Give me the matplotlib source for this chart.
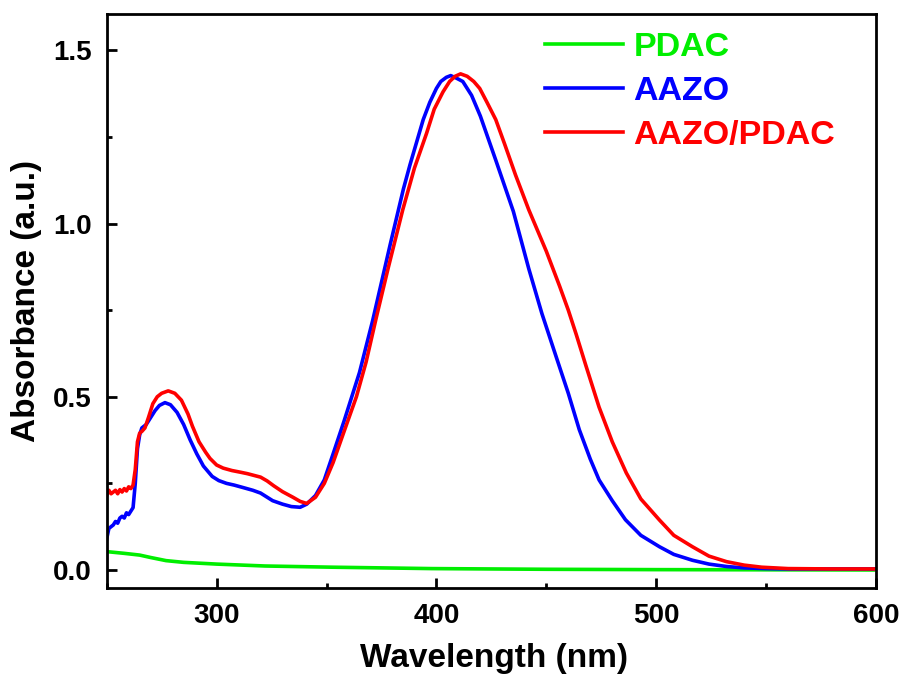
import matplotlib
matplotlib.use("Agg")
import matplotlib.pyplot as plt
from matplotlib.ticker import MultipleLocator

plt.rcParams["font.family"] = ["Liberation Sans", "DejaVu Sans"]
plt.rcParams["font.weight"] = "bold"

# PDAC
wl_pdac = [250, 258, 265, 270, 277, 285, 300, 322, 353, 398, 450, 500, 550, 600]
abs_pdac = [0.053, 0.048, 0.043, 0.036, 0.027, 0.022, 0.017, 0.0115, 0.008, 0.004, 0.002, 0.001, 0.0005, 0.0]

# AAZO
wl_aazo = [250, 251, 252, 253, 254, 255, 256, 257, 258, 259, 260, 261, 262, 263, 264, 265, 266,
           268, 270, 272, 274, 276.5, 279, 282, 285, 288, 291, 294, 298, 301, 304.5, 308, 312,
           316.5, 320, 325.5, 330, 334, 338, 341, 345, 349, 353, 358, 365, 371, 375, 379, 382,
           385, 388, 391, 394, 397, 400, 402, 404.5, 406.5, 409, 412, 416, 420, 427, 435, 442,
           448, 454.5, 460, 465, 470, 474, 480, 486, 493, 501.5, 508, 516.5, 524, 532, 540, 550,
           560, 580, 600]
abs_aazo = [0.09, 0.12, 0.125, 0.13, 0.14, 0.135, 0.15, 0.155, 0.15, 0.165, 0.16, 0.17, 0.18, 0.25,
            0.35, 0.39, 0.41, 0.42, 0.44, 0.46, 0.475, 0.483, 0.477, 0.455, 0.42, 0.375, 0.335,
            0.30, 0.27, 0.258, 0.25, 0.245, 0.238, 0.23, 0.222, 0.20, 0.19, 0.183, 0.181, 0.19,
            0.215, 0.26, 0.335, 0.43, 0.57, 0.72, 0.83, 0.94, 1.02, 1.10, 1.17, 1.235, 1.30, 1.35,
            1.39, 1.41, 1.422, 1.427, 1.42, 1.41, 1.37, 1.31, 1.183, 1.035, 0.87, 0.74, 0.615,
            0.51, 0.405, 0.32, 0.26, 0.20, 0.145, 0.10, 0.067, 0.045, 0.028, 0.017, 0.01, 0.006,
            0.004, 0.003, 0.003, 0.003]

# AAZO/PDAC
wl_mix = [250, 251, 252, 253, 254, 255, 256, 257, 258, 259, 260, 261, 262, 263, 264, 265, 266,
          267.4, 269, 271, 273, 275, 278, 281, 284, 287, 289, 292, 295, 297, 300, 303, 307, 311,
          314, 317, 320, 323, 326, 330, 334.7, 338, 341, 345, 349, 353, 358, 363.6, 368, 372.7,
          378, 384.7, 390, 395.5, 399, 403, 406, 408.5, 411, 414, 417, 419.7, 423, 427, 431, 436,
          442, 446, 450, 456, 460, 463.6, 468, 474, 480, 486.4, 493, 501.5, 508, 516.5, 524, 532,
          540, 548, 560, 580, 600]
abs_mix = [0.215, 0.23, 0.22, 0.225, 0.23, 0.22, 0.232, 0.225, 0.235, 0.228, 0.24, 0.235, 0.245,
           0.29, 0.37, 0.395, 0.40, 0.41, 0.44, 0.48, 0.50, 0.51, 0.517, 0.51, 0.49, 0.45, 0.415,
           0.37, 0.34, 0.322, 0.303, 0.294, 0.287, 0.282, 0.278, 0.273, 0.268, 0.257, 0.243,
           0.226, 0.21, 0.198, 0.192, 0.21, 0.25, 0.31, 0.40, 0.50, 0.60, 0.73, 0.87, 1.04, 1.16,
           1.26, 1.33, 1.38, 1.41, 1.425, 1.432, 1.425, 1.41, 1.39, 1.35, 1.30, 1.23, 1.14, 1.04,
           0.98, 0.92, 0.82, 0.75, 0.68, 0.59, 0.47, 0.37, 0.28, 0.205, 0.144, 0.10, 0.067, 0.04,
           0.024, 0.014, 0.008, 0.004, 0.003, 0.003]

fig = plt.figure(figsize=(9.08, 6.8), dpi=100)
ax = fig.add_axes([0.1175, 0.1353, 0.8473, 0.8437])

ax.plot(wl_pdac, abs_pdac, color="#00ee00", lw=2.6, label="PDAC")
ax.plot(wl_aazo, abs_aazo, color="#0000ff", lw=2.6, label="AAZO")
ax.plot(wl_mix, abs_mix, color="#ff0000", lw=2.6, label="AAZO/PDAC")

ax.set_xlim(250, 600)
ax.set_ylim(-0.052, 1.604)
ax.xaxis.set_major_locator(MultipleLocator(100))
ax.xaxis.set_minor_locator(MultipleLocator(50))
ax.yaxis.set_major_locator(MultipleLocator(0.5))
ax.yaxis.set_minor_locator(MultipleLocator(0.25))
ax.tick_params(which="both", direction="in", width=2, labelsize=20, pad=11,
               top=False, right=False)
ax.tick_params(which="major", length=7)
ax.tick_params(which="minor", length=3.5)
for lab in ax.get_xticklabels() + ax.get_yticklabels():
    lab.set_fontweight("bold")
for sp in ax.spines.values():
    sp.set_linewidth(2)

ax.set_xlabel("Wavelength (nm)", fontsize=24, fontweight="bold")
ax.set_ylabel("Absorbance (a.u.)", fontsize=24, fontweight="bold")
ax.xaxis.set_label_coords(0.503, -0.096)
ax.yaxis.set_label_coords(-0.084, 0.5)

leg = ax.legend(loc="upper left", bbox_to_anchor=(545 / 908, 1 - 32 / 680),
                bbox_transform=fig.transFigure, frameon=False, fontsize=24.5,
                handlelength=2.3, handletextpad=0.3, labelspacing=0.375, borderpad=0,
                borderaxespad=0)
for txt, line in zip(leg.get_texts(), leg.get_lines()):
    txt.set_color(line.get_color())
    txt.set_fontweight("bold")

fig.savefig("out.png", dpi=100)
